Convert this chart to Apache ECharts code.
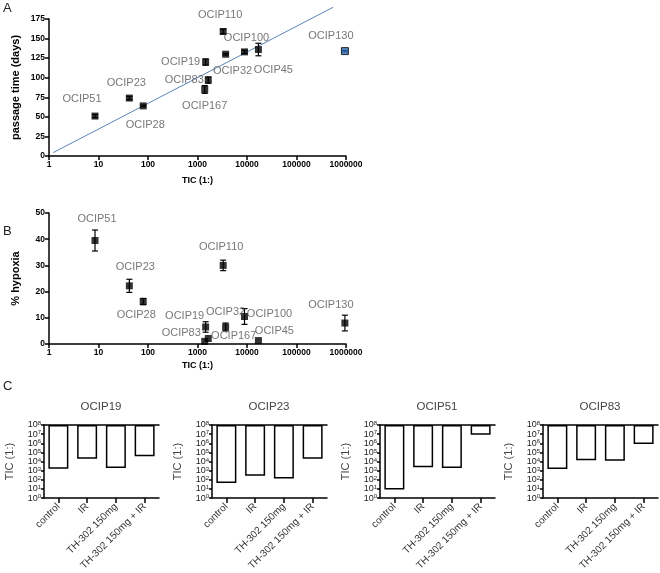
<!DOCTYPE html>
<html>
<head>
<meta charset="utf-8">
<script src="https://cdn.jsdelivr.net/npm/echarts@6/dist/echarts.min.js"></script>
</head>
<body style="margin:0">
<div id="container" style="width:660px;height:573px"></div>
<script>
// cell lines, shared by panels A and B
var names = ['OCIP51', 'OCIP23', 'OCIP28', 'OCIP19', 'OCIP83', 'OCIP167', 'OCIP110', 'OCIP32', 'OCIP100', 'OCIP45', 'OCIP130'];
var tic = [8.5, 42, 80, 1460, 1650, 1400, 3300, 3700, 8900, 17000, 950000];
var passage = [51, 74, 64, 120, 97, 85, 159, 130, 133, 136, 134];
var passageErr = [2, 2, 1, 4, 4, 5, 3, 1, 2, 8, 1];
var hypoxia = [39.5, 22.2, 16.2, 6.5, 2.1, 1.0, 30, 6.5, 10.5, 1.3, 8];
var hypoxiaErr = [4, 2.5, 1.2, 2, 0, 0, 2, 1.5, 3, 0, 3];
// regression line endpoints (panel A)
var fitX = [1.22, 550000];
var fitY = [4.4, 190];

// panel C
var treatments = ['control', 'IR', 'TH-302 150mg', 'TH-302 150mg + IR'];
var panelsC = ['OCIP19', 'OCIP23', 'OCIP51', 'OCIP83'];
var ticOCIP19 = [1600, 20000, 2000, 39000];
var ticOCIP23 = [45, 280, 140, 20000];
var ticOCIP51 = [8.5, 2400, 1900, 8500000];
var ticOCIP83 = [1500, 14000, 12000, 850000];
var ticTop = 1e8;

// label placement (pixel offsets from the marker)
var offA = [[-13, -17], [-3, -15], [2, 19], [-25, 0], [-24, 0], [0, 17], [-3, -17], [7, 17], [2, -14], [15, 20], [-14, -15]];
var offB = [[2, -22], [6, -19], [-7, 13], [-21, -11], [-27, -6], [29, -5], [-2, -18], [0, -15], [25, -3], [16, -10], [-14, -18]];

var FONT = 'Liberation Sans, Arial, sans-serif';
var AX = { lineStyle: { color: '#000', width: 1.5 } };
var TICK = { length: 4, lineStyle: { color: '#000', width: 1.5 } };
var TL = { color: '#000', fontSize: 8.5, fontWeight: 'bold', fontFamily: FONT, margin: 4 };

function ticAxis(grid, gap) {
	return {
		type: 'log', logBase: 10, gridIndex: grid, min: 1, max: 1000000,
		name: 'TIC (1:)', nameLocation: 'middle', nameGap: gap,
		nameTextStyle: { fontWeight: 'bold', fontSize: 9, fontFamily: FONT, color: '#000' },
		axisLine: AX, axisTick: TICK, splitLine: { show: false },
		axisLabel: Object.assign({}, TL, { formatter: function (v) { return String(Math.round(v)); } })
	};
}
function valAxis(grid, max, step, name) {
	return {
		type: 'value', gridIndex: grid, min: 0, max: max, interval: step,
		name: name, nameLocation: 'middle', nameGap: 28,
		nameTextStyle: { fontWeight: 'bold', fontSize: 11, fontFamily: FONT, color: '#000' },
		axisLine: { show: true, lineStyle: AX.lineStyle }, axisTick: { show: true, length: 4, lineStyle: TICK.lineStyle },
		splitLine: { show: false }, axisLabel: TL
	};
}
function errSeries(xi, yi, xs, ys, es) {
	return {
		type: 'custom', xAxisIndex: xi, yAxisIndex: yi, z: 2,
		data: xs.map(function (x, i) { return [x, ys[i], es[i]]; }),
		encode: { x: 0, y: 1 },
		renderItem: function (params, api) {
			var x = api.value(0), y = api.value(1), e = api.value(2);
			if (!e) return;
			var lo = api.coord([x, y - e]), hi = api.coord([x, y + e]);
			var st = { stroke: '#000', lineWidth: 1.2 };
			return { type: 'group', children: [
				{ type: 'line', shape: { x1: lo[0], y1: lo[1], x2: hi[0], y2: hi[1] }, style: st },
				{ type: 'line', shape: { x1: lo[0] - 3, y1: lo[1], x2: lo[0] + 3, y2: lo[1] }, style: st },
				{ type: 'line', shape: { x1: hi[0] - 3, y1: hi[1], x2: hi[0] + 3, y2: hi[1] }, style: st }
			] };
		}
	};
}
function pointSeries(xi, yi, ys, offs, blue) {
	return {
		type: 'scatter', xAxisIndex: xi, yAxisIndex: yi, symbol: 'rect', symbolSize: 7, z: 3,
		itemStyle: { color: '#000' },
		data: names.map(function (n, i) {
			var d = { name: n, value: [tic[i], ys[i]], label: { offset: offs[i] } };
			if (blue && n === 'OCIP130') d.itemStyle = { color: '#2f6db5', borderColor: '#000', borderWidth: 1 };
			return d;
		}),
		label: { show: true, position: 'inside', formatter: '{b}', color: '#555', fontSize: 11, fontFamily: FONT }
	};
}

var grids = [
	{ left: 49, top: 19, width: 297, height: 137 },
	{ left: 49, top: 213, width: 297, height: 131 }
];
var xAxes = [ticAxis(0, 20), ticAxis(1, 17)];
var yAxes = [valAxis(0, 175, 25, 'passage time (days)'), valAxis(1, 50, 10, '% hypoxia')];
var series = [
	{
		type: 'line', xAxisIndex: 0, yAxisIndex: 0, clip: false, symbol: 'none', z: 1,
		lineStyle: { color: '#5b84b8', width: 1 },
		data: fitX.map(function (x, i) { return [x, fitY[i]]; })
	},
	errSeries(0, 0, tic, passage, passageErr),
	pointSeries(0, 0, passage, offA, true),
	errSeries(1, 1, tic, hypoxia, hypoxiaErr),
	pointSeries(1, 1, hypoxia, offB, false)
];
var graphics = [
	{ type: 'text', left: 3, top: 2, style: { text: 'A', fontSize: 13, fontFamily: FONT, fill: '#222' } },
	{ type: 'text', left: 3, top: 225, style: { text: 'B', fontSize: 13, fontFamily: FONT, fill: '#222' } },
	{ type: 'text', left: 3, top: 380, style: { text: 'C', fontSize: 13, fontFamily: FONT, fill: '#222' } }
];

var cLeft = [44, 212, 380, 543];
var cData = [ticOCIP19, ticOCIP23, ticOCIP51, ticOCIP83];
cData.forEach(function (vals, k) {
	var g = grids.length;
	grids.push({ left: cLeft[k], top: 425, width: 115, height: 78 });
	var xb = xAxes.length;
	xAxes.push({
		type: 'category', gridIndex: g, data: treatments, position: 'bottom',
		axisLine: AX, axisTick: { show: true, alignWithLabel: true, length: 5, lineStyle: TICK.lineStyle },
		axisLabel: { rotate: 45, fontSize: 10, color: '#333', fontFamily: FONT, margin: 7, interval: 0 }
	});
	xAxes.push({
		type: 'category', gridIndex: g, data: treatments, position: 'top',
		axisLine: AX, axisTick: { show: false }, axisLabel: { show: false }
	});
	var yi = yAxes.length;
	yAxes.push({
		type: 'log', logBase: 10, gridIndex: g, min: 1, max: ticTop, splitNumber: 8,
		name: 'TIC (1:)', nameLocation: 'middle', nameGap: 29,
		nameTextStyle: { fontSize: 11, fontFamily: FONT, color: '#444' },
		axisLine: { show: true, lineStyle: AX.lineStyle }, axisTick: { show: true, length: 3, lineStyle: TICK.lineStyle },
		splitLine: { show: false },
		axisLabel: {
			margin: 3, fontFamily: FONT, hideOverlap: false, showMinLabel: true, showMaxLabel: true,
			formatter: function (v) { return '{b|10}{s|' + Math.round(Math.log10(v)) + '}'; },
			rich: {
				b: { fontSize: 9, lineHeight: 9, color: '#222', fontFamily: FONT },
				s: { fontSize: 6, lineHeight: 9, color: '#222', fontFamily: FONT, verticalAlign: 'top' }
			}
		}
	});
	series.push({
		type: 'bar', xAxisIndex: xb, yAxisIndex: yi, stack: 'c' + k, barWidth: 20,
		itemStyle: { color: 'rgba(0,0,0,0)' }, silent: true, data: vals
	});
	series.push({
		type: 'bar', xAxisIndex: xb, yAxisIndex: yi, stack: 'c' + k, barWidth: 20,
		itemStyle: { color: '#fff', borderColor: '#000', borderWidth: 1.5 },
		data: vals.map(function (v) { return ticTop - v; })
	});
	graphics.push({
		type: 'text', x: cLeft[k] + 57, y: 401, style: { text: panelsC[k], fontSize: 11.5, fontFamily: FONT, fill: '#444', align: 'center' }
	});
});

var chart = echarts.init(document.getElementById('container'));
chart.setOption({
	animation: false,
	backgroundColor: '#fff',
	textStyle: { fontFamily: FONT },
	grid: grids, xAxis: xAxes, yAxis: yAxes, series: series, graphic: graphics
});
</script>
</body>
</html>
